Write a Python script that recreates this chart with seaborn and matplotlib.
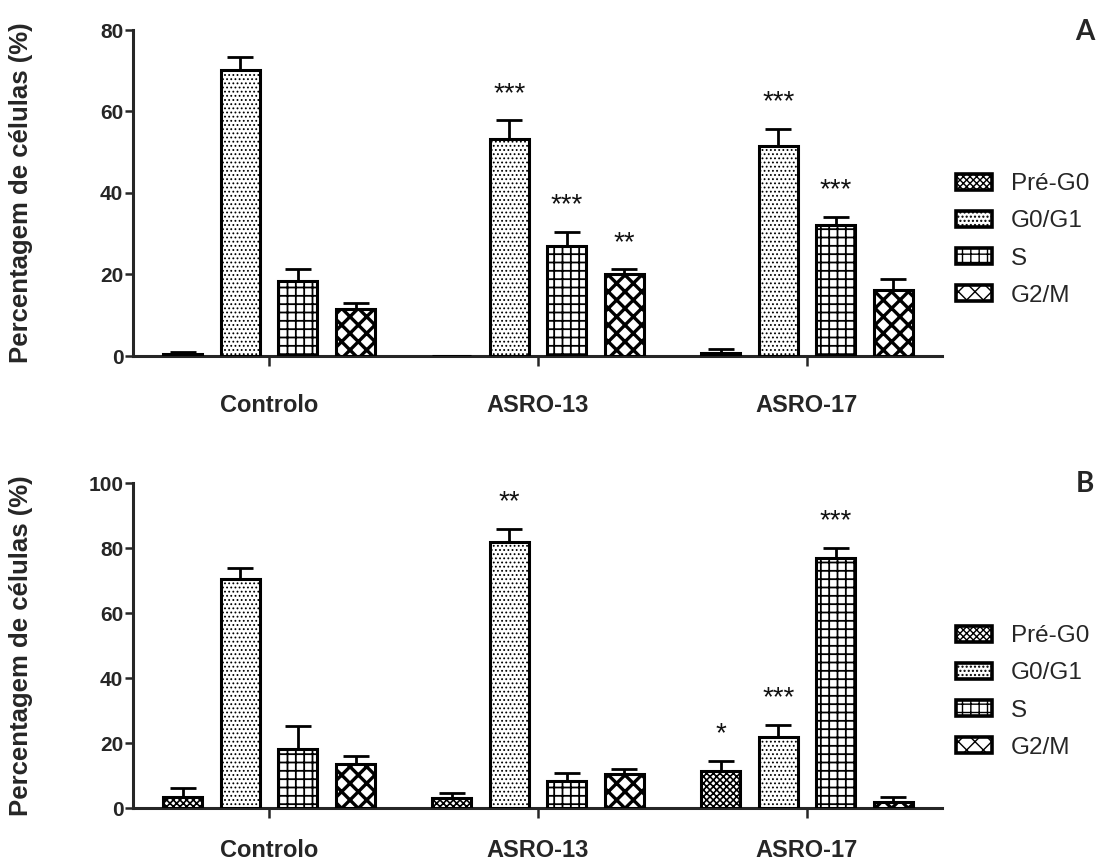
import numpy as np
import pandas as pd
import matplotlib
matplotlib.use("Agg")
import matplotlib.pyplot as plt
import seaborn as sns
from matplotlib.patches import Patch

# ---------------- data ----------------
grupos = ["Controlo", "ASRO-13", "ASRO-17"]
fases = ["Pré-G0", "G0/G1", "S", "G2/M"]

# Panel A (values per grupo, in order of grupos)
a_pre = [0.5, 0.0, 0.7]
a_g0g1 = [70.2, 53.2, 51.6]
a_s = [18.5, 27.0, 32.1]
a_g2m = [11.5, 20.0, 16.2]
a_pre_err = [0.5, 0.0, 1.0]
a_g0g1_err = [3.2, 4.6, 4.1]
a_s_err = [2.8, 3.5, 2.0]
a_g2m_err = [1.4, 1.3, 2.6]
a_pre_sig = ["", "", ""]
a_g0g1_sig = ["", "***", "***"]
a_s_sig = ["", "***", "***"]
a_g2m_sig = ["", "**", ""]

# Panel B
b_pre = [3.5, 3.2, 11.3]
b_g0g1 = [70.4, 82.0, 21.7]
b_s = [18.2, 8.2, 76.9]
b_g2m = [13.6, 10.5, 1.8]
b_pre_err = [2.7, 1.3, 3.3]
b_g0g1_err = [3.6, 4.0, 3.9]
b_s_err = [7.1, 2.6, 3.1]
b_g2m_err = [2.3, 1.5, 1.7]
b_pre_sig = ["", "", "*"]
b_g0g1_sig = ["", "**", "***"]
b_s_sig = ["", "", "***"]
b_g2m_sig = ["", "", ""]

yticks_a = [0, 20, 40, 60, 80]
yticks_b = [0, 20, 40, 60, 80, 100]

hatches = ["xxxxx", "....", "++", "xx"]
hatch_lw = [1.2, 0.8, 1.3, 2.4]

# ---------------- style ----------------
sns.set_style("ticks")
plt.rcParams["font.family"] = ["Liberation Sans", "DejaVu Sans"]
plt.rcParams["hatch.color"] = "black"


def build_df(pre, g0g1, s, g2m, pre_e, g0g1_e, s_e, g2m_e, pre_s, g0g1_s, s_s, g2m_s):
    return pd.DataFrame({
        "grupo": grupos * 4,
        "fase": np.repeat(fases, len(grupos)),
        "valor": pre + g0g1 + s + g2m,
        "erro": pre_e + g0g1_e + s_e + g2m_e,
        "sig": pre_s + g0g1_s + s_s + g2m_s,
    })


df_a = build_df(a_pre, a_g0g1, a_s, a_g2m, a_pre_err, a_g0g1_err, a_s_err, a_g2m_err,
                a_pre_sig, a_g0g1_sig, a_s_sig, a_g2m_sig)
df_b = build_df(b_pre, b_g0g1, b_s, b_g2m, b_pre_err, b_g0g1_err, b_s_err, b_g2m_err,
                b_pre_sig, b_g0g1_sig, b_s_sig, b_g2m_sig)

W, H = 1100, 863
fig = plt.figure(figsize=(W / 100, H / 100), dpi=100)

ax_a = fig.add_axes([133 / W, 1 - 356 / H, (942 - 133) / W, (356 - 30) / H])
ax_b = fig.add_axes([133 / W, 1 - 808 / H, (942 - 133) / W, (808 - 483) / H])


def draw(ax, df, yticks, letter, letter_y, legend_y, xpad):
    sns.barplot(data=df, x="grupo", y="valor", hue="fase", order=grupos,
                hue_order=fases, palette=["white"] * 4, width=0.857, gap=0.32,
                errorbar=None, legend=False, ax=ax, zorder=3)
    bar_containers = list(ax.containers)[:len(fases)]
    for k, cont in enumerate(bar_containers):
        sub = df[df["fase"] == fases[k]].set_index("grupo").loc[grupos]
        for j, bar in enumerate(cont):
            bar.set_facecolor("white")
            bar.set_edgecolor("black")
            bar.set_linewidth(2.2)
            bar.set_hatch(hatches[k])
            if hasattr(bar, "set_hatch_linewidth"):
                bar.set_hatch_linewidth(hatch_lw[k])
            val = sub["valor"].iloc[j]
            err = sub["erro"].iloc[j]
            sig = sub["sig"].iloc[j]
            xc = bar.get_x() + bar.get_width() / 2
            if err > 0:
                ax.errorbar([xc], [val], yerr=[[0], [err]], fmt="none",
                            ecolor="black", elinewidth=2.0, capsize=9.5,
                            capthick=2.0, zorder=2)
            if sig:
                ax.annotate(sig, xy=(xc, val + err), xytext=(0, 19),
                            textcoords="offset points", ha="center",
                            va="center", fontsize=20, color="#111111")
    ax.set_xlim(-0.506, 2.502)
    ax.set_ylim(0, yticks[-1])
    ax.set_yticks(yticks)
    ax.set_yticklabels([str(t) for t in yticks], fontsize=15, fontweight="bold")
    ax.set_xticks(range(len(grupos)))
    ax.set_xticklabels(grupos, fontsize=17, fontweight="bold")
    ax.tick_params(axis="y", length=6, width=1.8, pad=1, direction="out")
    ax.tick_params(axis="x", length=7, width=1.8, pad=xpad, direction="out")
    sns.despine(ax=ax)
    for sp in ("left", "bottom"):
        ax.spines[sp].set_linewidth(2.2)
    ax.set_xlabel("")
    ax.set_ylabel("Percentagem de células (%)", fontsize=18.5, fontweight="bold")
    ax.yaxis.set_label_coords((33 - 133) / (942 - 133), 0.5)
    handles = [Patch(facecolor="white", edgecolor="black", hatch=hatches[k],
                     linewidth=2.6, label=fases[k]) for k in range(4)]
    fig.legend(handles=handles, loc="center left",
               bbox_to_anchor=(956 / W, 1 - legend_y / H), frameon=False,
               fontsize=17.5, handlelength=1.5, handleheight=0.65,
               handletextpad=0.75, labelspacing=0.62, borderpad=0,
               borderaxespad=0)
    fig.text(1085 / W, 1 - letter_y / H, letter, ha="center", va="center",
             fontsize=20, fontweight="bold", family=["Lato", "DejaVu Sans"])


draw(ax_a, df_a, yticks_a, "A", 32, 240, 20)
draw(ax_b, df_b, yticks_b, "B", 484, 692, 15)

fig.savefig("out.png", dpi=100)
